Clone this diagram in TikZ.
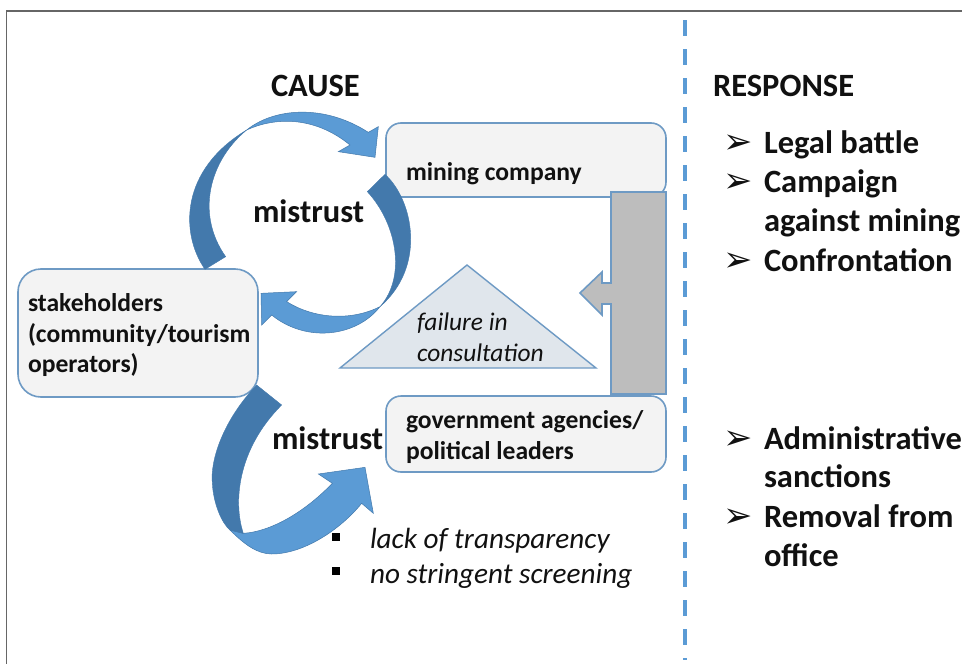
\documentclass[tikz,border=0pt]{standalone}
\usepackage{fontspec}
\setmainfont{Carlito}
\newfontfamily\symfont{DejaVu Sans}
\definecolor{edge}{HTML}{6E9AC4}
\definecolor{darkarrow}{HTML}{4379AC}
\definecolor{lightarrow}{HTML}{5B9BD5}
\definecolor{boxfill}{HTML}{F3F3F3}
\definecolor{trifill}{HTML}{E0E6EC}
\definecolor{teegray}{HTML}{BDBDBD}
\definecolor{inkc}{HTML}{111111}
\tikzset{
  x=1pt,y=-1pt,
  boxstyle/.style={draw=edge,fill=boxfill,line width=1.6pt},
  darkpart/.style={fill=darkarrow,draw=darkarrow,line width=.4pt},
  lightpart/.style={fill=lightarrow,draw=darkarrow,line width=.5pt},
  lab/.style={anchor=base west,inner sep=0pt,outer sep=0pt,text=inkc},
  sm/.style={lab,font=\fontsize{25.6}{25.6}\selectfont\bfseries},
  smit/.style={lab,font=\fontsize{25.4}{25.4}\selectfont\itshape},
  big/.style={lab,font=\fontsize{32.5}{32.5}\selectfont\bfseries},
  ita/.style={lab,font=\fontsize{29.2}{29.2}\selectfont\itshape},
  tick/.style={lab,font=\symfont\fontsize{35}{35}\selectfont},
  dot/.style={fill=black,inner sep=0pt,minimum size=8pt,shape=rectangle},
}
\begin{document}
\begin{tikzpicture}
\useasboundingbox (0,0) rectangle (962,664);
\fill[white] (0,0) rectangle (962,664);
% frame
\draw[draw=black!60,line width=1.5pt] (6.5,664) -- (6.5,11) -- (962,11);
% divider
\draw[lightarrow,line width=4pt,dash pattern=on 16pt off 13pt] (685,20) -- (685,660);

% boxes
\draw[boxstyle,rounded corners=15pt] (386,123) rectangle (666,197);
\draw[boxstyle,rounded corners=15pt] (386,396) rectangle (666,472);
\draw[boxstyle,rounded corners=23pt] (18,269) rectangle (258,397);
% triangle
\draw[draw=edge,fill=trifill,line width=1.4pt,line join=miter] (467,265) -- (596,368) -- (340,368) -- cycle;
% T arrow
\draw[draw=edge,fill=teegray,line width=1.6pt,line join=miter]
  (611,192) -- (666,192) -- (666,394) -- (611,394) -- (611,304) -- (602,304) -- (602,315)
  -- (580,293) -- (602,272) -- (602,283) -- (611,283) -- cycle;

% upper arrow 1
\begin{scope}[shift={(180,80)},scale=1/3]
 \path[lightpart] (200,150) .. controls (280,85) and (430,70) .. (565,157) -- (595,140) -- (585,232)
   -- (475,215) -- (510,195) .. controls (400,105) and (280,113) .. (200,150) -- cycle;
 \path[darkpart] (75,568) .. controls (0,460) and (0,270) .. (200,150)
   .. controls (90,240) and (45,400) .. (137,530) -- cycle;
 % upper arrow 2
 \path[lightpart] (600,680) .. controls (530,770) and (380,790) .. (275,705) -- (245,735) -- (243,640)
   -- (350,635) -- (320,665) .. controls (400,715) and (510,725) .. (600,680) -- cycle;
 \path[darkpart] (615,283) .. controls (700,360) and (740,560) .. (600,680)
   .. controls (680,590) and (650,430) .. (562,335) -- cycle;
\end{scope}
% lower arrow
\begin{scope}[shift={(180,370)},scale=1/3]
 \path[lightpart] (150,480) .. controls (190,520) and (230,552) .. (275,552)
   .. controls (370,552) and (480,480) .. (545,400) -- (580,430) -- (555,292) -- (415,312)
   -- (457,340) .. controls (370,430) and (270,485) .. (190,490) -- cycle;
 \path[darkpart] (230,45) .. controls (130,150) and (90,270) .. (97,340)
   .. controls (100,400) and (125,460) .. (150,480) -- (190,490)
   .. controls (160,400) and (170,240) .. (305,105) -- cycle;
\end{scope}

% labels
\node[big] (cause) at (271,96) {CAUSE};
\node[big] (resp) at (713,96) {RESPONSE};
\node[sm] (mine) at (406,180) {mining company};
\node[big] (m1) at (253,222) {mistrust};
\node[big] (m2) at (272,449) {mistrust};
\node[sm] (s1) at (28,311) {stakeholders};
\node[sm] (s2) at (28,342) {(community/tourism};
\node[sm] (s3) at (28,372) {operators)};
\node[sm] (g1) at (406,428) {government agencies/};
\node[sm] (g2) at (406,459) {political leaders};
\node[smit] (f1) at (417,330) {failure in};
\node[smit] (f2) at (417,361) {consultation};
\node[dot] (d1) at (336,537) {};
\node[dot] (d2) at (336,571) {};
\node[ita] (l1) at (370,548) {lack of transparency};
\node[ita] (l2) at (370,583) {no stringent screening};
\node[tick] (t1) at (723,153) {➢};
\node[tick] (t2) at (723,192) {➢};
\node[tick] (t3) at (723,271) {➢};
\node[tick] (t4) at (723,449) {➢};
\node[tick] (t5) at (723,527) {➢};
\node[big] (r1) at (764,153) {Legal battle};
\node[big] (r2) at (764,192) {Campaign};
\node[big] (r3) at (764,231) {against mining};
\node[big] (r4) at (764,271) {Confrontation};
\node[big] (r5) at (764,449) {Administrative};
\node[big] (r6) at (764,487) {sanctions};
\node[big] (r7) at (764,527) {Removal from};
\node[big] (r8) at (764,566) {office};
\end{tikzpicture}
\end{document}
